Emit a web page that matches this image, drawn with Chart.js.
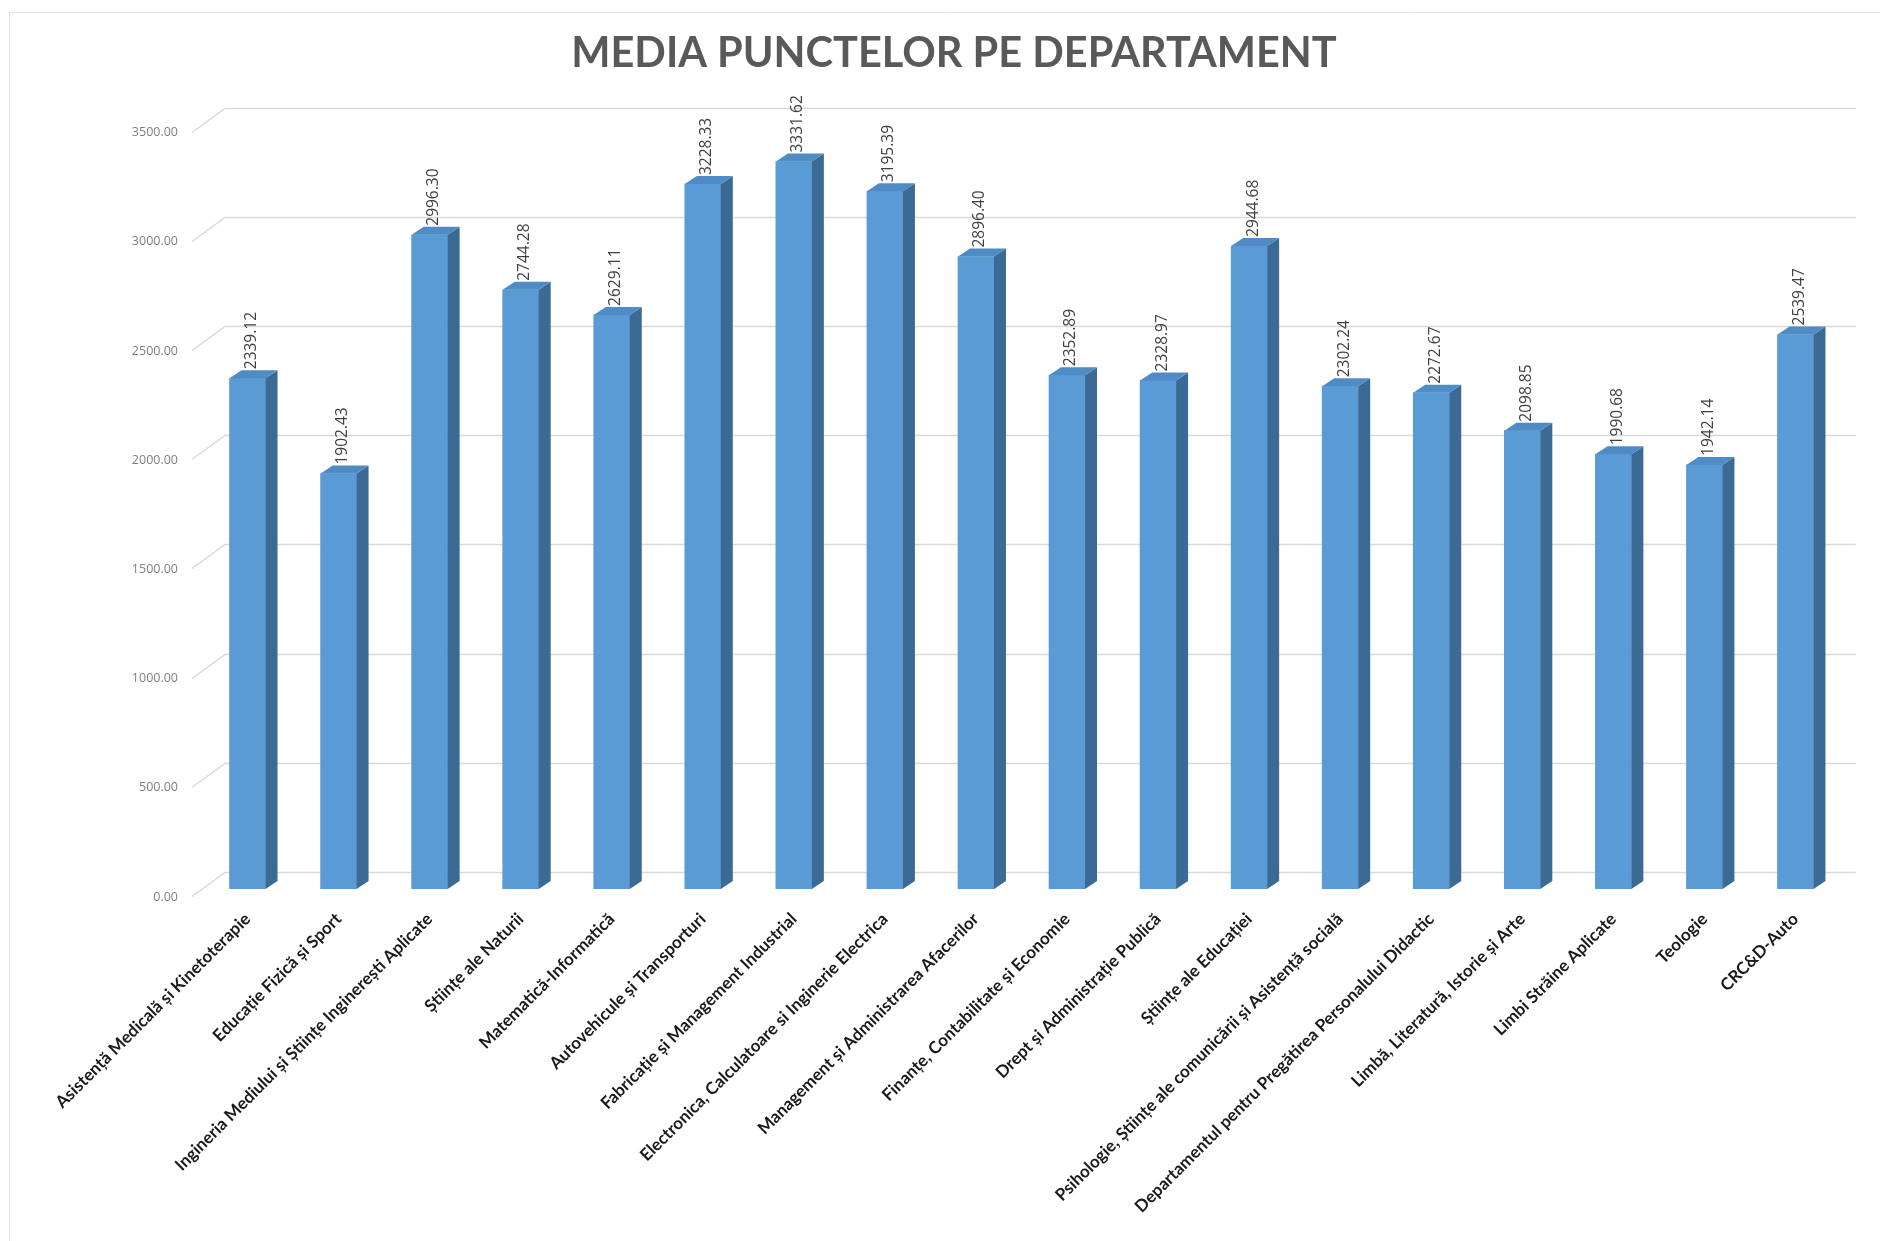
<!DOCTYPE html>
<html>
<head>
<meta charset="utf-8">
<script src="https://cdn.jsdelivr.net/npm/chart.js@4/dist/chart.umd.min.js"></script>
<style>
  html, body { margin: 0; padding: 0; background: #ffffff; }
  #wrap { position: relative; width: 1880px; height: 1241px; }
  canvas { display: block; }
</style>
</head>
<body>
<div id="wrap"><canvas id="c" width="1880" height="1241"></canvas></div>
<script>
const chartTitle = "MEDIA PUNCTELOR PE DEPARTAMENT";

const categories = [
  "Asistență Medicală și Kinetoterapie",
  "Educație Fizică și Sport",
  "Ingineria Mediului și Științe Inginerești Aplicate",
  "Științe ale Naturii",
  "Matematică-Informatică",
  "Autovehicule și Transporturi",
  "Fabricație și Management Industrial",
  "Electronica, Calculatoare si Inginerie Electrica",
  "Management și Administrarea Afacerilor",
  "Finanțe, Contabilitate și Economie",
  "Drept și Administrație Publică",
  "Științe ale Educației",
  "Psihologie, Științe ale comunicării și Asistență socială",
  "Departamentul pentru Pregătirea Personalului Didactic",
  "Limbă, Literatură, Istorie și Arte",
  "Limbi Străine Aplicate",
  "Teologie",
  "CRC&D-Auto"
];

const mediaPuncte = [
  2339.12, 1902.43, 2996.30, 2744.28, 2629.11, 3228.33, 3331.62, 3195.39, 2896.40,
  2352.89, 2328.97, 2944.68, 2302.24, 2272.67, 2098.85, 1990.68, 1942.14, 2539.47
];

const yTicks = [0, 500, 1000, 1500, 2000, 2500, 3000, 3500];

const DEPTH_X = 12, DEPTH_Y = -8;      // bar depth
const WALL_X = 23, WALL_Y = -17;       // back wall offset for gridlines

const gridPlugin = {
  id: 'backGrid',
  beforeDatasetsDraw(chart) {
    const ctx = chart.ctx, y = chart.scales.y, area = chart.chartArea;
    ctx.save();
    ctx.lineWidth = 1.5;
    ctx.strokeStyle = '#d9d9d9';
    yTicks.forEach(v => {
      const py = Math.round(y.getPixelForValue(v)) + 0.5;
      ctx.beginPath();
      ctx.moveTo(area.left - 10, py + 7);
      ctx.lineTo(area.left + WALL_X, py + WALL_Y);
      ctx.lineTo(1856, py + WALL_Y);
      ctx.stroke();
    });
    ctx.restore();
  }
};

const barsPlugin = {
  id: 'bars3d',
  afterDatasetsDraw(chart) {
    const ctx = chart.ctx;
    const meta = chart.getDatasetMeta(0);
    ctx.save();
    meta.data.forEach((el, i) => {
      const w = el.width, x0 = el.x - w / 2, x1 = el.x + w / 2, top = el.y, bot = el.base;
      // side face
      ctx.fillStyle = '#3b6a94';
      ctx.beginPath();
      ctx.moveTo(x1, top);
      ctx.lineTo(x1 + DEPTH_X, top + DEPTH_Y);
      ctx.lineTo(x1 + DEPTH_X, bot + DEPTH_Y);
      ctx.lineTo(x1, bot);
      ctx.closePath();
      ctx.fill();
      // top face
      ctx.fillStyle = '#4f8cc6';
      ctx.beginPath();
      ctx.moveTo(x0, top);
      ctx.lineTo(x0 + DEPTH_X, top + DEPTH_Y);
      ctx.lineTo(x1 + DEPTH_X, top + DEPTH_Y);
      ctx.lineTo(x1, top);
      ctx.closePath();
      ctx.fill();
      // value label
      ctx.save();
      ctx.translate(el.x + 4, top + DEPTH_Y - 1);
      ctx.rotate(-Math.PI / 2);
      ctx.fillStyle = '#404040';
      ctx.font = '15.5px "Open Sans", sans-serif';
      ctx.textAlign = 'left';
      ctx.textBaseline = 'middle';
      ctx.fillText(mediaPuncte[i].toFixed(2), 0, 0);
      ctx.restore();
    });
    ctx.restore();
  }
};

const framePlugin = {
  id: 'frame',
  beforeDraw(chart) {
    const ctx = chart.ctx;
    ctx.save();
    ctx.fillStyle = '#ffffff';
    ctx.fillRect(0, 0, chart.width, chart.height);
    ctx.strokeStyle = '#e3e3e3';
    ctx.lineWidth = 1;
    ctx.beginPath();
    ctx.moveTo(9.5, 1241);
    ctx.lineTo(9.5, 12.5);
    ctx.lineTo(1880, 12.5);
    ctx.stroke();
    ctx.restore();
  }
};

new Chart(document.getElementById('c'), {
  type: 'bar',
  data: {
    labels: categories,
    datasets: [{
      data: mediaPuncte,
      backgroundColor: '#5b9bd5',
      borderWidth: 0,
      barThickness: 36
    }]
  },
  options: {
    responsive: false,
    devicePixelRatio: 1,
    animation: false,
    layout: { padding: { left: 67, right: 39, top: 0, bottom: 0 } },
    plugins: {
      legend: { display: false },
      tooltip: { enabled: false },
      title: {
        display: true,
        text: chartTitle,
        color: '#595959',
        font: { family: 'Lato', size: 41.5, weight: 'bold', lineHeight: 1.15 },
        padding: { top: 30, bottom: 47 }
      }
    },
    scales: {
      x: {
        grid: { display: false, drawTicks: false },
        border: { display: false },
        afterFit(scale) { scale.height = 352; },
        ticks: {
          autoSkip: false,
          minRotation: 45,
          maxRotation: 45,
          padding: 20,
          color: '#1a1a1a',
          font: { family: 'Lato', size: 17, weight: 'bold' }
        }
      },
      y: {
        min: 0,
        max: 3500,
        afterFit(scale) { scale.width = 135; },
        afterBuildTicks(scale) { scale.ticks = yTicks.map(v => ({ value: v })); },
        grid: { display: false, drawTicks: false },
        border: { display: false },
        ticks: {
          padding: 24,
          labelOffset: 8,
          color: '#7f7f7f',
          font: { family: 'Open Sans', size: 12.5 },
          callback: v => Number(v).toFixed(2)
        }
      }
    }
  },
  plugins: [framePlugin, gridPlugin, barsPlugin]
});
</script>
</body>
</html>
